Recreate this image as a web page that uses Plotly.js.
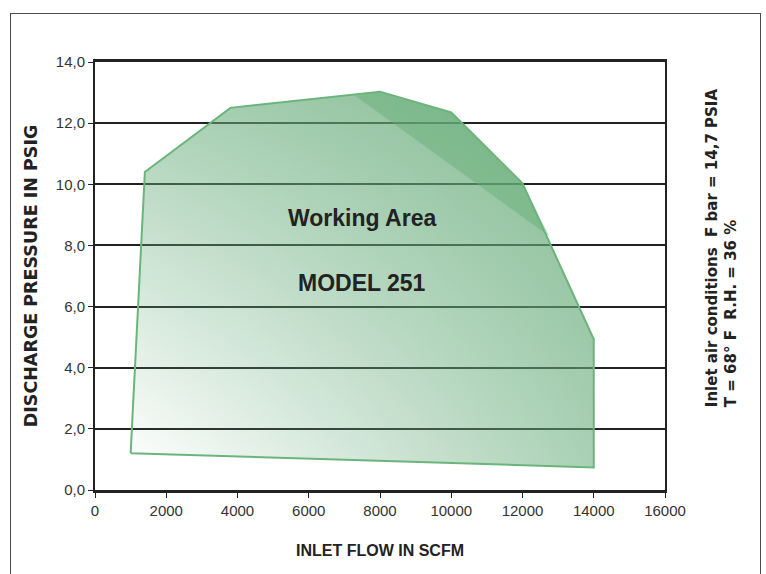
<!DOCTYPE html>
<html>
<head>
<meta charset="utf-8">
<script src="https://cdn.plot.ly/plotly-3.0.1.min.js"></script>
<style>
  html, body { margin: 0; padding: 0; background: #fff; }
  #wrap { position: relative; width: 766px; height: 574px; overflow: hidden; }
  #chart { position: absolute; left: 0; top: 0; width: 766px; height: 574px; }
  #frame { position: absolute; left: 10px; top: 13px; width: 749px; height: 620px;
           border: 1.5px solid #4a4a4a; pointer-events: none; }
</style>
</head>
<body>
<div id="wrap">
  <div id="chart"></div>
  <div id="frame"></div>
</div>
<script>
// Working area boundary (inlet flow SCFM, discharge pressure PSIG)
const flowX     = [1000, 1400, 3800, 8000, 10000, 12000, 14000, 14000, 1000];
const pressureY = [1.2, 10.4, 12.5, 13.03, 12.35, 10.03, 4.93, 0.74, 1.2];
// darker upper-right band of the area
const darkX = [7300, 8000, 10000, 12000, 12750, 7300];
const darkY = [12.9, 13.03, 12.35, 10.03, 8.3, 12.9];

const xTickVals = [0, 2000, 4000, 6000, 8000, 10000, 12000, 14000, 16000];
const xTickText = ['0', '2000', '4000', '6000', '8000', '10000', '12000', '14000', '16000'];
const yTickVals = [0, 2, 4, 6, 8, 10, 12, 14];
const yTickText = ['0,0', '2,0', '4,0', '6,0', '8,0', '10,0', '12,0', '14,0'];

const arial = '"Liberation Sans", Arial, sans-serif';
const wide = '"DejaVu Sans", sans-serif';
const green = '100,170,120';

const traces = [
  {
    x: flowX, y: pressureY, type: 'scatter', mode: 'none', fill: 'toself',
    fillgradient: { type: 'horizontal', start: 1000, stop: 14000,
      colorscale: [[0, 'rgba(' + green + ',0)'], [1, 'rgba(' + green + ',0.55)']] },
    hoverinfo: 'skip', showlegend: false
  },
  {
    x: flowX, y: pressureY, type: 'scatter', mode: 'none', fill: 'toself',
    fillgradient: { type: 'vertical', start: 0.7, stop: 13.03,
      colorscale: [[0, 'rgba(' + green + ',0)'], [1, 'rgba(' + green + ',0.55)']] },
    hoverinfo: 'skip', showlegend: false
  },
  {
    x: darkX, y: darkY, type: 'scatter', mode: 'none', fill: 'toself',
    fillcolor: 'rgba(100,172,115,0.45)', hoverinfo: 'skip', showlegend: false
  },
  {
    x: flowX, y: pressureY, type: 'scatter', mode: 'lines',
    line: { color: '#6bb47c', width: 2 }, hoverinfo: 'skip', showlegend: false
  }
];

const layout = {
  width: 766, height: 574,
  margin: { l: 95, r: 101, t: 62, b: 84 },
  paper_bgcolor: '#fff', plot_bgcolor: '#fff',
  showlegend: false,
  xaxis: {
    range: [0, 16000], tickvals: xTickVals, ticktext: xTickText,
    showgrid: false, zeroline: false,
    showline: true, linecolor: '#222', linewidth: 3, mirror: true,
    ticks: 'outside', ticklen: 5, tickwidth: 1, tickcolor: '#222',
    tickfont: { family: arial, size: 15, color: '#333' },
    title: { text: 'INLET FLOW IN SCFM', standoff: 27,
             font: { family: arial, size: 16, color: '#222', weight: 'bold' } }
  },
  yaxis: {
    range: [0, 14], tickvals: yTickVals, ticktext: yTickText,
    showgrid: true, gridcolor: '#222', gridwidth: 2, zeroline: false,
    showline: true, linecolor: '#222', linewidth: 2, mirror: true,
    ticks: 'outside', ticklen: 5, tickwidth: 1, tickcolor: '#222',
    tickfont: { family: arial, size: 15, color: '#333' },
    title: { text: 'DISCHARGE PRESSURE IN PSIG', standoff: 14,
             font: { family: wide, size: 17.5, color: '#222', weight: 'bold' } }
  },
  annotations: [
    { x: 7500, y: 8.9, xref: 'x', yref: 'y', text: '<b>Working Area</b>', showarrow: false,
      font: { family: arial, size: 23, color: '#222' } },
    { x: 7500, y: 6.77, xref: 'x', yref: 'y', text: '<b>MODEL 251</b>', showarrow: false,
      font: { family: arial, size: 23, color: '#222' } },
    { x: 1.1, y: 0.565, xref: 'paper', yref: 'paper', xanchor: 'center', yanchor: 'middle',
      textangle: -90, align: 'left', showarrow: false,
      text: '<b>Inlet air conditions  F bar = 14,7 PSIA</b><br><b>T = 68° F  R.H. = 36 %</b>',
      font: { family: wide, size: 15, color: '#222' } }
  ]
};

Plotly.newPlot('chart', traces, layout, { displayModeBar: false, staticPlot: true });
</script>
</body>
</html>
